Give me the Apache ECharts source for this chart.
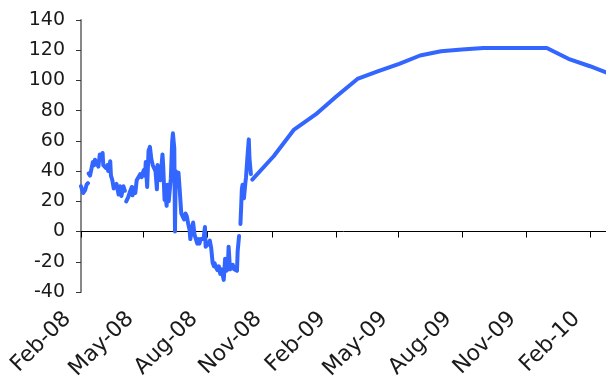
<!DOCTYPE html>
<html>
<head>
<meta charset="utf-8">
<script src="https://cdn.jsdelivr.net/npm/echarts@6/dist/echarts.min.js"></script>
<style>
html,body{margin:0;padding:0;background:#fff;}
#c{width:606px;height:381px;}
</style>
</head>
<body>
<div id="c"></div>
<script>
// Tick labels on the x axis (every 3 months)
const tickDates = ['2008-02-01','2008-05-01','2008-08-01','2008-11-01','2009-02-01','2009-05-01','2009-08-01','2009-11-01','2010-02-01'];
const tickLabels = ['Feb-08','May-08','Aug-08','Nov-08','Feb-09','May-09','Aug-09','Nov-09','Feb-10'];
const axisStart = '2008-02-01';
const axisEnd = '2010-02-24';

// Daily history (null = gap)
const histDates = [
'2008-02-01','2008-02-03','2008-02-04','2008-02-07','2008-02-09','2008-02-11','2008-02-11 12:00',
'2008-02-12','2008-02-14','2008-02-16','2008-02-18','2008-02-20','2008-02-21','2008-02-23','2008-02-26','2008-02-28',
'2008-03-02','2008-03-03','2008-03-04','2008-03-06','2008-03-08','2008-03-10','2008-03-11','2008-03-14','2008-03-15',
'2008-03-17','2008-03-19','2008-03-21','2008-03-23','2008-03-26','2008-03-28','2008-03-30','2008-04-02','2008-04-04','2008-04-05',
'2008-04-06','2008-04-09','2008-04-11','2008-04-14','2008-04-15','2008-04-17','2008-04-19','2008-04-21','2008-04-23',
'2008-04-26','2008-04-28','2008-05-01','2008-05-03','2008-05-04','2008-05-06','2008-05-08','2008-05-10','2008-05-12',
'2008-05-14','2008-05-16','2008-05-18','2008-05-20','2008-05-21','2008-05-23','2008-05-25','2008-05-28','2008-05-29',
'2008-05-31','2008-06-01','2008-06-03','2008-06-04','2008-06-06','2008-06-09','2008-06-11','2008-06-12','2008-06-14',
'2008-06-15','2008-06-16','2008-06-18','2008-06-20','2008-06-22','2008-06-24','2008-06-26','2008-06-28','2008-06-30',
'2008-07-02','2008-07-04','2008-07-06','2008-07-07','2008-07-09','2008-07-11','2008-07-13','2008-07-15','2008-07-17',
'2008-07-19','2008-07-20','2008-07-22','2008-07-24','2008-07-26','2008-07-28','2008-07-29','2008-07-31','2008-08-02',
'2008-08-04','2008-08-06','2008-08-08','2008-08-10','2008-08-11','2008-08-13','2008-08-15','2008-08-17','2008-08-19',
'2008-08-21','2008-08-23','2008-08-24','2008-08-26','2008-08-28','2008-08-30','2008-08-31','2008-09-02','2008-09-04',
'2008-09-06','2008-09-08','2008-09-10','2008-09-12','2008-09-13','2008-09-15','2008-09-16',
'2008-09-17','2008-09-18','2008-09-19','2008-09-20','2008-09-22','2008-09-24','2008-09-25','2008-09-27','2008-09-29',
'2008-09-30','2008-10-02','2008-10-03'
];
const histValues = [
30,27,25.5,27.5,31,32,null,
38.5,37,37,46,44,47.5,48.5,43,51,
49,52,44,45,42,44,40,46.5,37,
34,28.5,28,31.5,24.5,30,23.5,30,27,null,
20,23,26,29.5,24,29,25.5,34,33,
38,36,40.5,37,46,29.5,53.5,56,48,
44,45,40,28,44,40,34,51,44,
21,25,17,31,20,35,60,65,55,
0,40,32,39,26,12,13,8,12,
10,5,1,-5,1,6,-2,-5,-8,
-5,-8,-5,-4,-5,3,-10,-11,-8,
-6,-11,-20.5,-23,-21,-24,-25.5,-23,-28,
-25,-30,-32,-18,-26,-22,-10,-25,-24,
-22,-25,-24,-26,-13,-3,null,
5,16,28,31,22,32,36,49,61,
48,38,null
];

// Monthly forecast path
const fcDates = ['2008-10-04','2008-11-04','2008-12-03','2009-01-03','2009-02-02','2009-03-04','2009-04-02','2009-05-03','2009-06-02','2009-07-02','2009-08-01','2009-09-01','2009-10-01','2009-11-01','2009-12-01','2010-01-01','2010-02-01','2010-03-01'];
const fcValues = [34.4,50,67.5,77.5,89.5,101,106,111,116.5,119.3,120.5,121.5,121.5,121.5,121.5,114.3,109.4,104.5];

const yMin = -40, yMax = 140, yStep = 20;

function toTs(s){
  const m = s.match(/(\d+)-(\d+)-(\d+)(?: (\d+):(\d+))?/);
  return Date.UTC(+m[1], +m[2]-1, +m[3], m[4]?+m[4]:0, m[5]?+m[5]:0);
}
const tickTs = tickDates.map(toTs);
const xMin = toTs(axisStart), xMax = toTs(axisEnd);
const data = histDates.map((d,i)=>[toTs(d), histValues[i]]).concat(fcDates.map((d,i)=>[toTs(d), fcValues[i]]));

const chart = echarts.init(document.getElementById('c'), null, {renderer:'canvas'});
const font = 'DejaVu Sans';
chart.setOption({
  animation:false,
  grid:{left:81,right:0,top:20,bottom:89,containLabel:false,outerBoundsMode:'none'},
  xAxis:[{
    type:'value', min:xMin, max:xMax,
    axisLine:{show:true,onZero:true,lineStyle:{color:'#000',width:1}},
    axisTick:{show:true,customValues:tickTs,length:6,inside:false,lineStyle:{color:'#000',width:1}},
    axisLabel:{show:false},
    splitLine:{show:false}
  },{
    type:'value', min:xMin, max:xMax, position:'bottom',
    axisLine:{show:false,onZero:false},
    axisTick:{show:false},
    splitLine:{show:false},
    axisLabel:{
      show:true, customValues:tickTs, rotate:45, margin:10, padding:[0,19,0,0],
      fontFamily:font, fontSize:22, color:'#1a1a1a', hideOverlap:false,
      formatter:function(v){ const i = tickTs.indexOf(+v); return i>=0 ? tickLabels[i] : ''; }
    }
  }],
  yAxis:{
    type:'value', min:yMin, max:yMax, interval:yStep,
    axisLine:{show:true,onZero:false,lineStyle:{color:'#888',width:2}},
    axisTick:{show:true,length:5,lineStyle:{color:'#333',width:1}},
    axisLabel:{fontFamily:font,fontSize:19,color:'#1a1a1a',margin:16},
    splitLine:{show:false}
  },
  series:[{
    type:'line', xAxisIndex:0, data:data, showSymbol:false, symbol:'none',
    connectNulls:false, clip:true,
    lineStyle:{color:'#3366ff',width:4,join:'round',cap:'round'}
  }]
});
</script>
</body>
</html>
